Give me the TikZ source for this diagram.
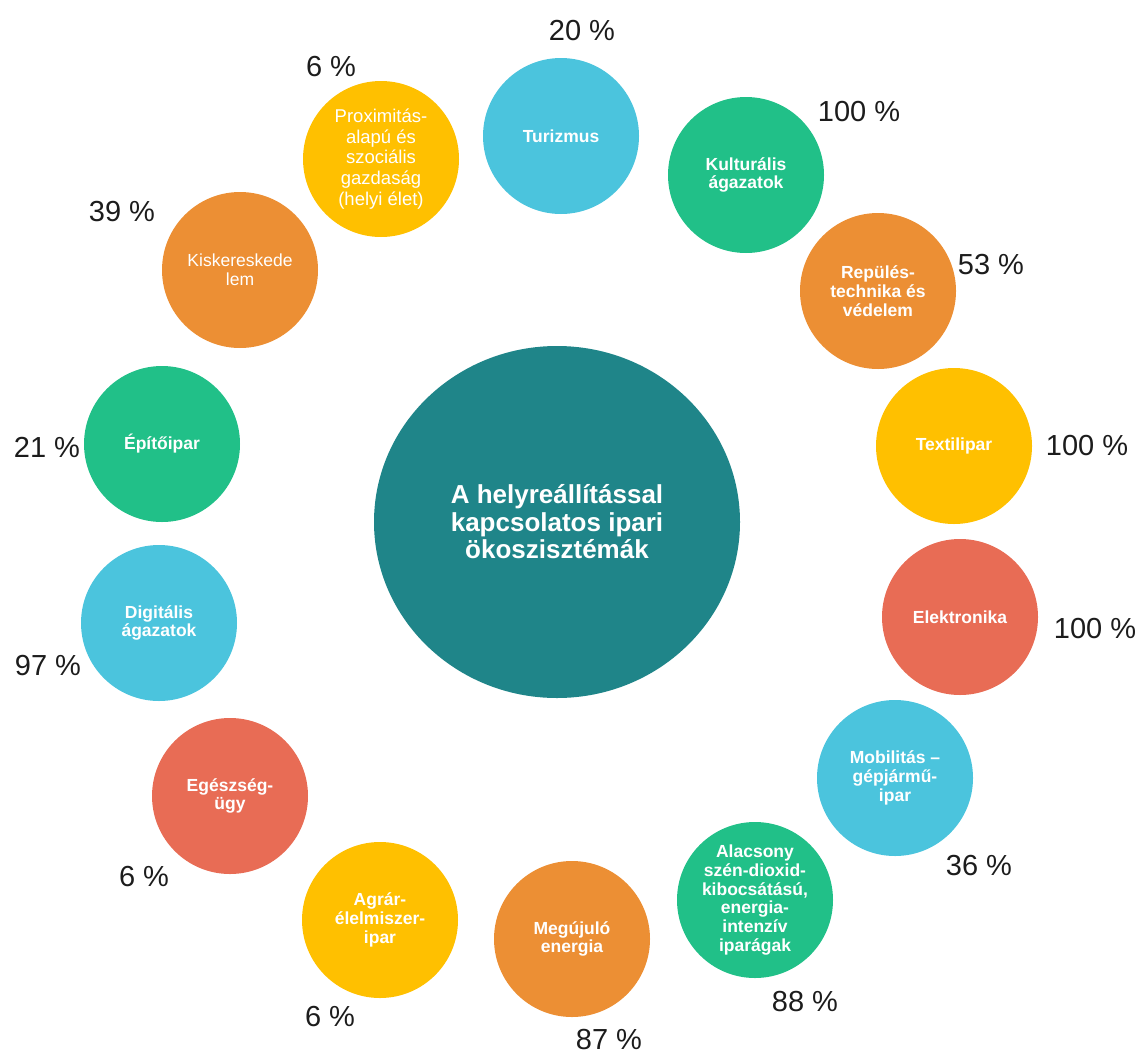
\documentclass[tikz,border=0pt]{standalone}
\usepackage{fontspec}
\setmainfont{Liberation Sans}
\usetikzlibrary{shapes.geometric}
\definecolor{cteal}{HTML}{1F8589}
\definecolor{cblue}{HTML}{4BC4DD}
\definecolor{cgreen}{HTML}{21C088}
\definecolor{corange}{HTML}{EC8F34}
\definecolor{cyellow}{HTML}{FFC000}
\definecolor{cred}{HTML}{E86C55}
\definecolor{cpct}{HTML}{1C1C1C}
\begin{document}
\begin{tikzpicture}[x=1pt,y=-1pt,
  bub/.style={circle, minimum size=156pt, inner sep=0pt, text=white, align=center,
    font=\bfseries\fontsize{17.5}{18.8}\selectfont},
  bubreg/.style={bub, font=\fontsize{18.5}{20.8}\selectfont},
  pct/.style={inner sep=0pt, text=cpct, font=\fontsize{29}{32}\selectfont},
  hub/.style={ellipse, minimum width=366pt, minimum height=352pt, inner sep=0pt,
    fill=cteal, text=white, align=center, font=\bfseries\fontsize{26}{27.5}\selectfont}]
\useasboundingbox (0,0) rectangle (1140,1055);

\node[hub] (hub) at (557,522) {A helyreállítással\\kapcsolatos ipari\\ökoszisztémák};

\node[bub, fill=cblue] (tur) at (561,136) {Turizmus};
\node[bubreg, fill=cyellow] (prox) at (381,159) {Proximitás-\\alapú és\\szociális\\gazdaság\\(helyi élet)};
\node[bub, fill=cgreen] (kult) at (746,175) {Kulturális\\ágazatok};
\node[bubreg, fill=corange, font=\fontsize{17.5}{18.8}\selectfont] (kisk) at (240,270) {Kiskereskede\\lem};
\node[bub, fill=corange] (rep) at (878,291) {Repülés-\\technika és\\védelem};
\node[bub, fill=cgreen] (epit) at (162,444) {Építőipar};
\node[bub, fill=cyellow] (text) at (954,446) {Textilipar};
\node[bub, fill=cblue] (digi) at (159,623) {Digitális\\ágazatok};
\node[bub, fill=cred] (elek) at (960,617) {Elektronika};
\node[bub, fill=cred] (egesz) at (230,796) {Egészség-\\ügy};
\node[bub, fill=cblue] (mob) at (895,778) {Mobilitás –\\gépjármű-\\ipar};
\node[bub, fill=cyellow] (agrar) at (380,920) {Agrár-\\élelmiszer-\\ipar};
\node[bub, fill=corange] (megu) at (572,939) {Megújuló\\energia};
\node[bub, fill=cgreen] (alacs) at (755,900) {Alacsony\\szén-dioxid-\\kibocsátású,\\energia-\\intenzív\\iparágak};

\node[pct] (p-tur) at (582,31) {20 \%};
\node[pct] (p-prox) at (331,67) {6 \%};
\node[pct] (p-kult) at (859,112) {100 \%};
\node[pct] (p-rep) at (991,265) {53 \%};
\node[pct] (p-kisk) at (122,212) {39 \%};
\node[pct] (p-epit) at (47,447) {21 \%};
\node[pct] (p-text) at (1087,446) {100 \%};
\node[pct] (p-digi) at (48,666) {97 \%};
\node[pct] (p-elek) at (1095,629) {100 \%};
\node[pct] (p-egesz) at (144,877) {6 \%};
\node[pct] (p-mob) at (979,866) {36 \%};
\node[pct] (p-alacs) at (805,1002) {88 \%};
\node[pct] (p-agrar) at (330,1017) {6 \%};
\node[pct] (p-megu) at (609,1040) {87 \%};
\end{tikzpicture}
\end{document}
